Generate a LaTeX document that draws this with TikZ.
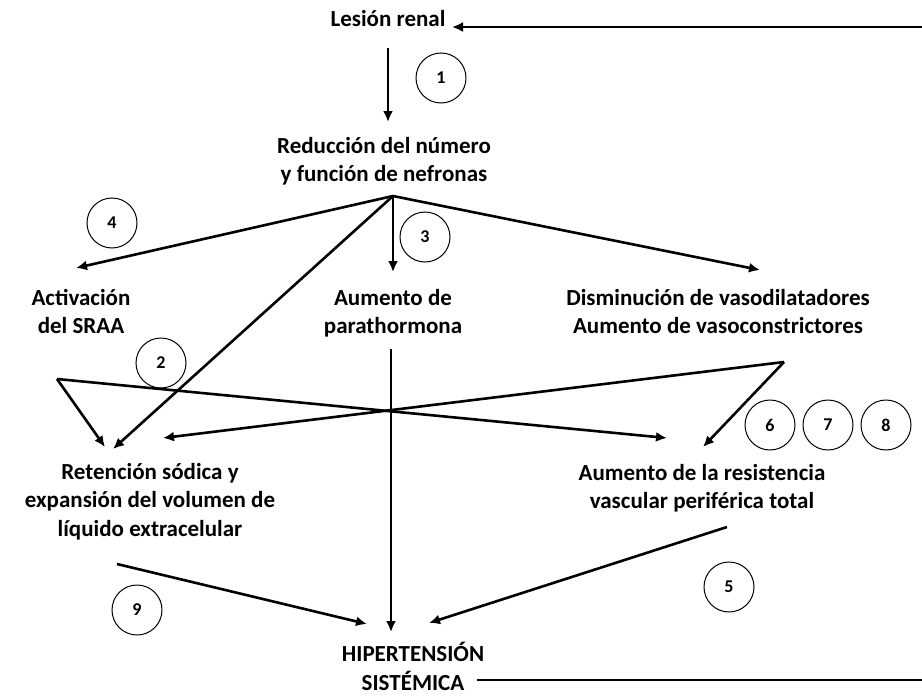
\documentclass[tikz,border=0pt]{standalone}
\usepackage{fontspec}
\setmainfont{Carlito}
\usetikzlibrary{arrows.meta}
\begin{document}
\begin{tikzpicture}[x=1pt,y=-1pt,
  lbl/.style={font=\bfseries\fontsize{23}{28.5}\selectfont,align=center,inner sep=0pt,anchor=base},
  num/.style={draw,circle,line width=1pt,minimum size=50pt,inner sep=0pt,font=\bfseries\fontsize{18}{20}\selectfont},
  arr/.style={line width=2.6pt,-{Latex[length=11pt,width=10pt]}},
  ln/.style={line width=2.6pt}]
\useasboundingbox (0,0) rectangle (922,696);
% text nodes (base = last line baseline)
\node[lbl] (les) at (388,26) {Lesión renal};
\node[lbl] (red) at (384,181.5) {Reducción del número\\y función de nefronas};
\node[lbl] (act) at (81,333.5) {Activación\\del SRAA};
\node[lbl] (pth) at (393,333.5) {Aumento de\\parathormona};
\node[lbl] (dis) at (718,333.5) {Disminución de vasodilatadores\\Aumento de vasoconstrictores};
\node[lbl] (ret) at (150,536) {Retención sódica y\\expansión del volumen de\\líquido extracelular};
\node[lbl] (res) at (702,508.5) {Aumento de la resistencia\\vascular periférica total};
\node[lbl] (hip) at (413,690) {HIPERTENSIÓN\\SISTÉMICA};
% numbered circles
\node[num] (c1) at (441,78) {1};
\node[num] (c2) at (161,363) {2};
\node[num] (c3) at (425,237) {3};
\node[num] (c4) at (112,223) {4};
\node[num] (c5) at (729,587) {5};
\node[num] (c6) at (770,425) {6};
\node[num] (c7) at (828,425) {7};
\node[num] (c8) at (886,425) {8};
\node[num] (c9) at (137,610) {9};
% points
\coordinate (lesB) at (388,48);
\coordinate (redT) at (388,122);
\coordinate (hub) at (393,196);
\coordinate (actT) at (76,268);
\coordinate (pthT) at (393,272);
\coordinate (disT) at (760,270);
\coordinate (retT) at (113,449);
\coordinate (lap) at (57,379);
\coordinate (retT2) at (105,447);
\coordinate (resT2) at (667,438);
\coordinate (rap) at (784,362);
\coordinate (retT3) at (163,438);
\coordinate (resT) at (703,447);
\coordinate (pthB) at (391,349);
\coordinate (hipT) at (391,632);
\coordinate (retB) at (117,564);
\coordinate (hipL) at (367,624);
\coordinate (resB) at (727,527);
\coordinate (hipR) at (429,623);
\coordinate (fbA) at (477,680);
\coordinate (fbB) at (922,680);
\coordinate (fbC) at (922,27);
\coordinate (lesR) at (452,27);
% connectors
\draw[arr] (lesB) -- (redT);
\draw[arr] (hub) -- (actT);
\draw[arr] (hub) -- (pthT);
\draw[arr] (hub) -- (disT);
\draw[arr] (hub) -- (retT);
\draw[arr] (lap) -- (retT2);
\draw[arr] (lap) -- (resT2);
\draw[arr] (rap) -- (retT3);
\draw[arr] (rap) -- (resT);
\draw[arr] (pthB) -- (hipT);
\draw[arr] (retB) -- (hipL);
\draw[arr] (resB) -- (hipR);
\draw[ln] (fbA) -- (fbB);
\draw[arr] (fbC) -- (lesR);
\end{tikzpicture}
\end{document}
